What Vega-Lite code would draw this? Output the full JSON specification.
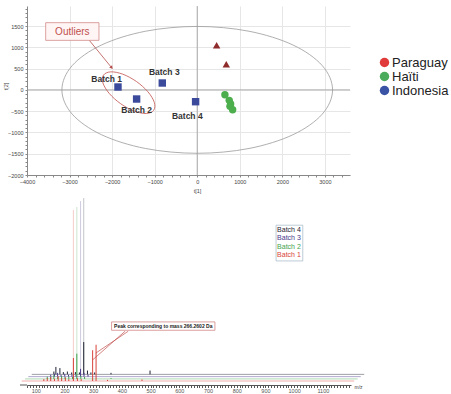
{
  "$schema": "https://vega.github.io/schema/vega-lite/v6.json",
  "padding": {"left": 2, "top": 5, "right": 0, "bottom": 0},
  "background": "white",
  "config": {"view": {"stroke": null}, "font": "Liberation Sans"},
  "columns": 1,
  "align": "none",
  "spacing": 1,
  "resolve": {"scale": {"color": "independent"}},
  "datasets": {
    "pca": [
      {"origin": "Paraguay", "x": 456, "y": 1046},
      {"origin": "Paraguay", "x": 683, "y": 600},
      {"origin": "Haïti", "x": 651, "y": -113},
      {"origin": "Haïti", "x": 752, "y": -246},
      {"origin": "Haïti", "x": 785, "y": -330},
      {"origin": "Haïti", "x": 769, "y": -387},
      {"origin": "Haïti", "x": 832, "y": -466},
      {"origin": "Indonesia", "x": -1862, "y": 67},
      {"origin": "Indonesia", "x": -1424, "y": -215},
      {"origin": "Indonesia", "x": -821, "y": 161},
      {"origin": "Indonesia", "x": -38, "y": -278}
    ],
    "batchLabels": [
      {"label": "Batch 1", "x": -2128, "y": 263},
      {"label": "Batch 2", "x": -1424, "y": -481},
      {"label": "Batch 3", "x": -774, "y": 419},
      {"label": "Batch 4", "x": -233, "y": -614}
    ],
    "hotelling": [
      {"i": 0, "x": 3180, "y": 0}, {"i": 1, "x": 2938, "y": 570}, {"i": 2, "x": 2249, "y": 1054},
      {"i": 3, "x": 1217, "y": 1377}, {"i": 4, "x": 0, "y": 1490}, {"i": 5, "x": -1217, "y": 1377},
      {"i": 6, "x": -2249, "y": 1054}, {"i": 7, "x": -2938, "y": 570}, {"i": 8, "x": -3180, "y": 0},
      {"i": 9, "x": -2938, "y": -570}, {"i": 10, "x": -2249, "y": -1054}, {"i": 11, "x": -1217, "y": -1377},
      {"i": 12, "x": 0, "y": -1490}, {"i": 13, "x": 1217, "y": -1377}, {"i": 14, "x": 2249, "y": -1054},
      {"i": 15, "x": 2938, "y": -570}
    ],
    "outlierRing": [
      {"i": 0, "x": -1022, "y": -479}, {"i": 1, "x": -1009, "y": -293}, {"i": 2, "x": -1158, "y": -46},
      {"i": 3, "x": -1428, "y": 196}, {"i": 4, "x": -1748, "y": 368}, {"i": 5, "x": -2031, "y": 423},
      {"i": 6, "x": -2202, "y": 347}, {"i": 7, "x": -2215, "y": 161}, {"i": 8, "x": -2066, "y": -86},
      {"i": 9, "x": -1796, "y": -328}, {"i": 10, "x": -1476, "y": -500}, {"i": 11, "x": -1193, "y": -555}
    ],
    "zeroLines": [
      {"x": 0, "x2": 0, "y": -2000, "y2": 1970},
      {"x": -4000, "x2": 3590, "y": 0, "y2": 0}
    ],
    "baselines": [
      {"b": "Batch 4", "x": 86, "x2": 1244, "y": 5.6},
      {"b": "Batch 3", "x": 74, "x2": 1232, "y": 4.4},
      {"b": "Batch 2", "x": 63, "x2": 1221, "y": 3.2},
      {"b": "Batch 1", "x": 51, "x2": 1209, "y": 2.1}
    ],
    "tall": [
      {"b": "Batch 1", "x": 231, "y": 2.1, "y2": 92.1},
      {"b": "Batch 2", "x": 243, "y": 3.2, "y2": 93.7},
      {"b": "Batch 3", "x": 256, "y": 4.4, "y2": 96.8},
      {"b": "Batch 4", "x": 267, "y": 5.6, "y2": 98.4}
    ],
    "peaks": [
      {"b": "Batch 4", "x": 163, "y": 5.6, "y2": 7.1},
      {"b": "Batch 4", "x": 170, "y": 5.6, "y2": 9.5},
      {"b": "Batch 4", "x": 184, "y": 5.6, "y2": 8.9},
      {"b": "Batch 4", "x": 196, "y": 5.6, "y2": 6.8},
      {"b": "Batch 4", "x": 210, "y": 5.6, "y2": 7.1},
      {"b": "Batch 4", "x": 225, "y": 5.6, "y2": 6.6},
      {"b": "Batch 4", "x": 238, "y": 5.6, "y2": 6.8},
      {"b": "Batch 4", "x": 252, "y": 5.6, "y2": 6.6},
      {"b": "Batch 4", "x": 267, "y": 5.6, "y2": 22.6},
      {"b": "Batch 4", "x": 280, "y": 5.6, "y2": 7.6},
      {"b": "Batch 4", "x": 292, "y": 5.6, "y2": 6.6},
      {"b": "Batch 4", "x": 305, "y": 5.6, "y2": 6.6},
      {"b": "Batch 4", "x": 362, "y": 5.6, "y2": 6.4},
      {"b": "Batch 4", "x": 498, "y": 5.6, "y2": 7.6},
      {"b": "Batch 3", "x": 152, "y": 4.4, "y2": 5.4},
      {"b": "Batch 3", "x": 165, "y": 4.4, "y2": 5.9},
      {"b": "Batch 3", "x": 176, "y": 4.4, "y2": 6.4},
      {"b": "Batch 3", "x": 188, "y": 4.4, "y2": 5.4},
      {"b": "Batch 3", "x": 201, "y": 4.4, "y2": 5.9},
      {"b": "Batch 3", "x": 214, "y": 4.4, "y2": 5.4},
      {"b": "Batch 3", "x": 226, "y": 4.4, "y2": 5.4},
      {"b": "Batch 3", "x": 240, "y": 4.4, "y2": 5.4},
      {"b": "Batch 3", "x": 256, "y": 4.4, "y2": 8.5},
      {"b": "Batch 3", "x": 268, "y": 4.4, "y2": 6.4},
      {"b": "Batch 3", "x": 282, "y": 4.4, "y2": 5.4},
      {"b": "Batch 2", "x": 140, "y": 3.2, "y2": 4.4},
      {"b": "Batch 2", "x": 152, "y": 3.2, "y2": 4.4},
      {"b": "Batch 2", "x": 163, "y": 3.2, "y2": 5.2},
      {"b": "Batch 2", "x": 176, "y": 3.2, "y2": 4.2},
      {"b": "Batch 2", "x": 190, "y": 3.2, "y2": 4.7},
      {"b": "Batch 2", "x": 202, "y": 3.2, "y2": 4.2},
      {"b": "Batch 2", "x": 215, "y": 3.2, "y2": 4.4},
      {"b": "Batch 2", "x": 228, "y": 3.2, "y2": 4.2},
      {"b": "Batch 2", "x": 243, "y": 3.2, "y2": 16.5},
      {"b": "Batch 2", "x": 257, "y": 3.2, "y2": 4.7},
      {"b": "Batch 2", "x": 270, "y": 3.2, "y2": 4.2},
      {"b": "Batch 2", "x": 362, "y": 3.2, "y2": 3.7},
      {"b": "Batch 1", "x": 128, "y": 2.1, "y2": 3.1},
      {"b": "Batch 1", "x": 140, "y": 2.1, "y2": 3.6},
      {"b": "Batch 1", "x": 152, "y": 2.1, "y2": 4.1},
      {"b": "Batch 1", "x": 165, "y": 2.1, "y2": 3.3},
      {"b": "Batch 1", "x": 178, "y": 2.1, "y2": 4.6},
      {"b": "Batch 1", "x": 190, "y": 2.1, "y2": 3.6},
      {"b": "Batch 1", "x": 203, "y": 2.1, "y2": 3.9},
      {"b": "Batch 1", "x": 215, "y": 2.1, "y2": 3.1},
      {"b": "Batch 1", "x": 231, "y": 2.1, "y2": 14.2},
      {"b": "Batch 1", "x": 245, "y": 2.1, "y2": 3.6},
      {"b": "Batch 1", "x": 258, "y": 2.1, "y2": 3.1},
      {"b": "Batch 1", "x": 298, "y": 2.1, "y2": 18.3},
      {"b": "Batch 1", "x": 310, "y": 2.1, "y2": 21.2},
      {"b": "Batch 1", "x": 350, "y": 2.1, "y2": 2.7},
      {"b": "Batch 1", "x": 470, "y": 2.1, "y2": 2.9}
    ],
    "batchKey": [
      {"b": "Batch 4", "x": 982, "y": 81.7},
      {"b": "Batch 3", "x": 982, "y": 77.2},
      {"b": "Batch 2", "x": 982, "y": 72.8},
      {"b": "Batch 1", "x": 982, "y": 68.3}
    ]
  },
  "concat": [
    {
      "width": 323,
      "height": 169,
      "encoding": {
        "x": {
          "field": "x", "type": "quantitative",
          "scale": {"domain": [-4000, 3590], "nice": false, "zero": false},
          "axis": {
            "title": "t[1]", "titleFontSize": 5.5, "titleFontWeight": "normal", "titleColor": "#444",
            "titleX": 170, "titleY": 15, "titleBaseline": "middle", "titleAlign": "center",
            "tickCount": 38, "format": "d",
            "labelExpr": "datum.value % 1000 === 0 ? datum.label : ''",
            "labelFontSize": 5.5, "labelColor": "#444", "labelOverlap": false, "labelFlush": false,
            "labelPadding": 2, "tickSize": 2, "tickColor": "#888", "domainColor": "#888",
            "grid": true, "gridColor": "#e6e6e6",
            "gridOpacity": {"condition": {"test": "datum.value % 1000 === 0", "value": 1}, "value": 0}
          }
        },
        "y": {
          "field": "y", "type": "quantitative",
          "scale": {"domain": [-2000, 1970], "nice": false, "zero": false},
          "axis": {
            "title": "t[2]", "titleFontSize": 5.5, "titleFontWeight": "normal", "titleColor": "#444",
            "titleX": -22, "titleY": 80, "titleAngle": -90, "titleBaseline": "middle", "titleAlign": "center",
            "tickCount": 40, "format": "d",
            "labelExpr": "datum.value % 500 === 0 ? datum.label : ''",
            "labelFontSize": 5.5, "labelColor": "#444", "labelOverlap": false, "labelFlush": false,
            "labelPadding": 2, "tickSize": 2, "tickColor": "#888", "domainColor": "#888",
            "grid": true, "gridColor": "#e6e6e6",
            "gridOpacity": {"condition": {"test": "datum.value % 500 === 0", "value": 1}, "value": 0}
          }
        }
      },
      "layer": [
        {
          "data": {"name": "zeroLines"},
          "mark": {"type": "rule", "color": "#9a9a9a", "strokeWidth": 0.8},
          "encoding": {"x2": {"field": "x2"}, "y2": {"field": "y2"}}
        },
        {
          "data": {"name": "hotelling"},
          "mark": {"type": "line", "interpolate": "cardinal-closed", "color": "#9a9a9a", "strokeWidth": 0.8},
          "encoding": {"order": {"field": "i", "type": "quantitative"}}
        },
        {
          "data": {"name": "outlierRing"},
          "mark": {"type": "line", "interpolate": "cardinal-closed", "color": "#c0504d", "strokeWidth": 0.8},
          "encoding": {"order": {"field": "i", "type": "quantitative"}}
        },
        {
          "data": {"values": [{"x": -2536, "y": 1163, "x2": -2011, "y2": 521}]},
          "mark": {"type": "rule", "color": "#b5504d", "strokeWidth": 0.8},
          "encoding": {"x2": {"field": "x2"}, "y2": {"field": "y2"}}
        },
        {
          "data": {"values": [{"x": -2011, "y": 521}]},
          "mark": {"type": "point", "shape": "triangle-up", "filled": true, "color": "#b5504d", "size": 14, "angle": 141, "opacity": 1},
          "encoding": {}
        },
        {
          "data": {"values": [{"x": -3561, "x2": -2309, "y": 1578, "y2": 1163}]},
          "mark": {"type": "rect", "fill": "#fff5f5", "stroke": "#d08a88", "strokeWidth": 0.8},
          "encoding": {"x2": {"field": "x2"}, "y2": {"field": "y2"}}
        },
        {
          "data": {"values": [{"x": -2935, "y": 1370, "text": "Outliers"}]},
          "mark": {"type": "text", "color": "#c0504d", "fontSize": 10, "baseline": "middle", "align": "center"},
          "encoding": {"text": {"field": "text"}}
        },
        {
          "data": {"name": "pca"},
          "mark": {"type": "point", "filled": true, "opacity": 1, "size": 55},
          "encoding": {
            "fill": {
              "field": "origin", "type": "nominal",
              "scale": {"domain": ["Paraguay", "Haïti", "Indonesia"], "range": ["#8e2b2b", "#4cae4c", "#3b4a9b"]},
              "legend": null
            },
            "shape": {
              "field": "origin", "type": "nominal",
              "scale": {"domain": ["Paraguay", "Haïti", "Indonesia"], "range": ["triangle-up", "circle", "square"]},
              "legend": null
            }
          }
        },
        {
          "data": {"name": "pca"},
          "mark": {"type": "point", "filled": true, "opacity": 0},
          "encoding": {
            "color": {
              "field": "origin", "type": "nominal",
              "scale": {"domain": ["Paraguay", "Haïti", "Indonesia"], "range": ["#e03a3a", "#4aab5c", "#3b53a4"]},
              "legend": {
                "title": null, "orient": "none", "legendX": 351, "legendY": 50,
                "symbolType": "circle", "symbolSize": 90, "symbolOpacity": 1, "symbolStrokeWidth": 0,
                "labelFont": "Liberation Sans", "labelFontSize": 13, "labelColor": "#222",
                "labelOffset": 1, "rowPadding": 0, "padding": 0
              }
            }
          }
        },
        {
          "data": {"name": "batchLabels"},
          "mark": {"type": "text", "fontWeight": "bold", "fontSize": 8.5, "color": "#333", "baseline": "middle", "align": "center"},
          "encoding": {"text": {"field": "label"}}
        }
      ]
    },
    {
      "width": 324,
      "height": 190,
      "encoding": {
        "x": {
          "field": "x", "type": "quantitative",
          "scale": {"domain": [69.4, 1198], "nice": false, "zero": false},
          "axis": {
            "title": "m/z", "titleFontSize": 5, "titleFontWeight": "normal", "titleColor": "#444",
            "titleX": 331, "titleY": 1, "titleAngle": 0, "titleAlign": "center", "titleBaseline": "middle",
            "tickCount": 113, "format": "d",
            "labelExpr": "datum.value % 100 === 0 ? datum.label : ''",
            "labelFontSize": 5.5, "labelColor": "#555", "labelOverlap": false, "labelFlush": false,
            "labelPadding": 1, "tickSize": 2.5, "tickColor": "#555", "domainColor": "#555", "grid": false
          }
        },
        "y": {
          "field": "y", "type": "quantitative",
          "scale": {"domain": [0, 100], "nice": false, "zero": false},
          "axis": {
            "title": ".", "titleColor": "white", "titleFontSize": 4, "titleX": -25, "titleY": 100,
            "titleAngle": 0, "titleAlign": "left", "titleBaseline": "middle", "minExtent": 0,
            "labels": false, "ticks": false, "domain": false, "grid": false
          }
        }
      },
      "layer": [
        {
          "data": {"values": [{"x": 45, "x2": 69.4, "y": 0}]},
          "mark": {"type": "rule", "color": "#555", "strokeWidth": 1},
          "encoding": {"x2": {"field": "x2"}}
        },
        {
          "data": {"name": "baselines"},
          "mark": {"type": "rule", "strokeWidth": 0.8, "opacity": 0.55},
          "encoding": {
            "x2": {"field": "x2"},
            "color": {"field": "b", "type": "nominal", "scale": {"domain": ["Batch 1", "Batch 2", "Batch 3", "Batch 4"], "range": ["#d8433b", "#3fa34d", "#4b3a8c", "#1e2233"]}, "legend": null}
          }
        },
        {
          "data": {"name": "tall"},
          "mark": {"type": "rule", "strokeWidth": 0.6, "opacity": 0.45},
          "encoding": {
            "y2": {"field": "y2"},
            "color": {"field": "b", "type": "nominal", "scale": {"domain": ["Batch 1", "Batch 2", "Batch 3", "Batch 4"], "range": ["#d8433b", "#3fa34d", "#4b3a8c", "#1e2233"]}, "legend": null}
          }
        },
        {
          "data": {"name": "peaks"},
          "mark": {"type": "rule", "strokeWidth": 1},
          "encoding": {
            "y2": {"field": "y2"},
            "color": {"field": "b", "type": "nominal", "scale": {"domain": ["Batch 1", "Batch 2", "Batch 3", "Batch 4"], "range": ["#d8433b", "#3fa34d", "#4b3a8c", "#1e2233"]}, "legend": null}
          }
        },
        {
          "data": {"values": [{"x": 422, "y": 28.3, "x2": 309, "y2": 16.8}, {"x": 411, "y": 28.3, "x2": 298, "y2": 13.2}]},
          "mark": {"type": "rule", "color": "#c0504d", "strokeWidth": 0.7},
          "encoding": {"x2": {"field": "x2"}, "y2": {"field": "y2"}}
        },
        {
          "data": {"values": [{"x": 364, "x2": 724, "y": 33.2, "y2": 28.8}]},
          "mark": {"type": "rect", "fill": "white", "stroke": "#c77", "strokeWidth": 0.7},
          "encoding": {"x2": {"field": "x2"}, "y2": {"field": "y2"}}
        },
        {
          "data": {"values": [{"x": 544, "y": 31, "text": "Peak corresponding to mass 266.2602 Da"}]},
          "mark": {"type": "text", "fontSize": 5, "fontWeight": "bold", "color": "#222", "baseline": "middle", "align": "center"},
          "encoding": {"text": {"field": "text"}}
        },
        {
          "data": {"values": [{"x": 937, "x2": 1030, "y": 84.1, "y2": 65.3}]},
          "mark": {"type": "rect", "fill": "white", "stroke": "#9fb4c4", "strokeWidth": 0.7},
          "encoding": {"x2": {"field": "x2"}, "y2": {"field": "y2"}}
        },
        {
          "data": {"name": "batchKey"},
          "mark": {"type": "text", "fontSize": 7, "baseline": "middle", "align": "center"},
          "encoding": {
            "text": {"field": "b"},
            "color": {"field": "b", "type": "nominal", "scale": {"domain": ["Batch 1", "Batch 2", "Batch 3", "Batch 4"], "range": ["#d8433b", "#3fa34d", "#4b3a8c", "#1e2233"]}, "legend": null}
          }
        }
      ]
    }
  ]
}
